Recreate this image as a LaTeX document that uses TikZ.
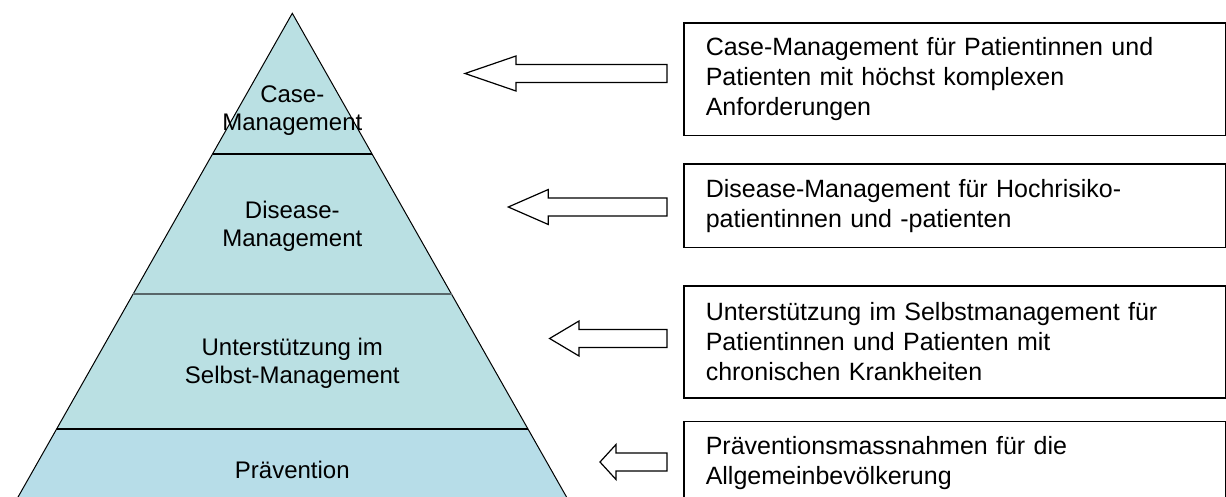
\documentclass[tikz,border=0pt]{standalone}
\usepackage{fontspec}
\setmainfont{Liberation Sans}
\usetikzlibrary{positioning}
\definecolor{levelblue}{RGB}{186,224,227}
\definecolor{baseblue}{RGB}{183,221,232}
\definecolor{rulegray}{RGB}{88,102,105}

\begin{document}
\begin{tikzpicture}[x=1pt, y=-1pt,
    level/.style={align=center, inner sep=0pt, font=\fontsize{24}{28}\selectfont},
    infobox/.style={draw, line width=1.5pt, anchor=north west, text width=498pt,
      inner xsep=22pt, inner ysep=0pt, align=left, font=\fontsize{25}{30}\selectfont},
    pointer/.style={draw, line width=1.2pt, fill=white, line join=miter}]
  \useasboundingbox (0,0) rectangle (1226,497);
  \clip (0,0) rectangle (1226,497);

  % Pyramid
  \fill[levelblue] (292.3,13.3) -- (372.1,154) -- (212.5,154) -- cycle;
  \fill[levelblue] (212.5,154) -- (372.1,154) -- (451.5,294) -- (133.1,294) -- cycle;
  \fill[levelblue] (133.1,294) -- (451.5,294) -- (528.0,429) -- (56.6,429) -- cycle;
  \fill[baseblue] (56.6,429) -- (528.0,429) -- (573.9,510) -- (10.7,510) -- cycle;
  \draw[line width=1pt] (10.7,510) -- (292.3,13.3) -- (573.9,510);
  \draw[line width=2pt] (212.5,154) -- (372.1,154);
  \draw[line width=2pt, rulegray] (133.1,294) -- (451.5,294);
  \draw[line width=2pt] (56.6,429) -- (528.0,429);

  % Levels
  \node[level] (case) at (292.3,111) {Case-\\Management};
  \node[level] (disease) at (292.3,226) {Disease-\\Management};
  \node[level] (selfmgmt) at (292.3,363) {Unterstützung im\\Selbst-Management};
  \node[level] (prevention) at (292.3,470) {Prävention};

  % Descriptions
  \node[infobox, minimum height=112.7pt] (caseinfo) at (683,22.3)
    {Case-Management für Patientinnen und\\Patienten mit höchst komplexen\\Anforderungen};
  \node[infobox, minimum height=83.4pt] (diseaseinfo) at (683,163.3)
    {Disease-Management für Hochrisiko-\\patientinnen und -patienten};
  \node[infobox, minimum height=112.3pt] (selfinfo) at (683,285)
    {Unterstützung im Selbstmanagement für\\Patientinnen und Patienten mit\\chronischen Krankheiten};
  \node[infobox, minimum height=84pt] (preventinfo) at (683,420.7)
    {Präventionsmassnahmen für die\\Allgemeinbevölkerung};

  % Arrows
  \foreach \tip/\head/\y in {465/516/73.5, 508.3/548.3/207, 549.6/579/338.5, 600/616/462}
    \draw[pointer] (\tip,\y) -- (\head,\y-17.5) -- (\head,\y-9) -- (667,\y-9)
      -- (667,\y+9) -- (\head,\y+9) -- (\head,\y+17.5) -- cycle;
\end{tikzpicture}
\end{document}
